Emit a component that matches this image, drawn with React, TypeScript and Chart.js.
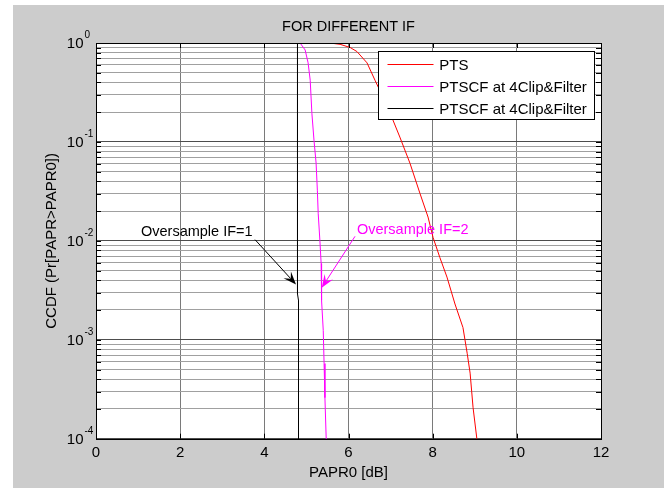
import React, { useEffect, useRef } from "react";
import { Chart, registerables } from "chart.js";

Chart.register(...registerables);

const FONT = "'Liberation Sans', Arial, Helvetica, sans-serif";

// ---- data ----
const seriesLabels = ["PTS", "PTSCF at 4Clip&Filter", "PTSCF at 4Clip&Filter"];
const seriesColors = ["#ff0000", "#ff00ff", "#000000"];

const ptsX = [4.4, 5.56, 5.8, 6.04, 6.2, 6.44, 6.63, 6.82, 6.99, 7.22, 7.46, 7.7, 7.89, 8.01, 8.17, 8.34, 8.53, 8.72, 8.82, 8.89, 8.96, 9.05, 9.07];
const ptsY = [1, 1, 0.97, 0.9, 0.82, 0.63, 0.42, 0.284, 0.195, 0.112, 0.061, 0.03, 0.0174, 0.0108, 0.0068, 0.0043, 0.0023, 0.00133, 0.00073, 0.00046, 0.000206, 0.0001, 0.00008];

const if2X = [4.6, 4.85, 4.97, 5.04, 5.09, 5.13, 5.18, 5.23, 5.26, 5.28, 5.32, 5.35, 5.36, 5.36, 5.4, 5.42, 5.44, 5.47, 5.48];
const if2Y = [1, 1, 0.85, 0.63, 0.42, 0.195, 0.104, 0.061, 0.0325, 0.019, 0.0101, 0.0059, 0.0037, 0.0025, 0.00124, 0.000575, 0.00026, 0.0001, 0.00008];

const if1X = [4.5, 4.788, 4.788, 4.812, 4.812];
const if1Y = [1, 1, 0.0029, 0.0025, 0.00008];

const xTicks = [0, 2, 4, 6, 8, 10, 12];
const yDecadeExps = [0, -1, -2, -3, -4];

const titleText = "FOR DIFFERENT IF";
const xLabel = "PAPR0 [dB]";
const yLabel = "CCDF (Pr[PAPR>PAPR0])";

// annotation texts and arrows (data coordinates)
const noteTexts = ["Oversample IF=1", "Oversample IF=2"];
const noteColors = ["#000000", "#ff00ff"];
const noteTextX = [1.069, 6.2];
const noteTextY = [0.01111, 0.01177];
const noteFromX = [3.779, 6.155];
const noteFromY = [0.01028, 0.01111];
const noteToX = [4.753, 5.364];
const noteToY = [0.003626, 0.003357];

// y gridline values: 1..9 x each decade
const yGridValues: number[] = [];
for (let e = -4; e <= -1; e++) {
  for (let m = 1; m <= 9; m++) yGridValues.push(m * Math.pow(10, e));
}
yGridValues.push(1);

const isDecade = (v: number) => {
  const l = Math.log10(v);
  return Math.abs(l - Math.round(l)) < 1e-9;
};

const toPoints = (xs: number[], ys: number[]) => xs.map((x, i) => ({ x, y: ys[i] }));

function drawArrow(ctx: CanvasRenderingContext2D, x1: number, y1: number, x2: number, y2: number, color: string) {
  const dx = x2 - x1;
  const dy = y2 - y1;
  const len = Math.hypot(dx, dy);
  const ux = dx / len;
  const uy = dy / len;
  const nx = -uy;
  const ny = ux;
  const L = 13;
  const W = 5;
  const notch = 0.6 * L;
  ctx.strokeStyle = color;
  ctx.fillStyle = color;
  ctx.lineWidth = 1;
  ctx.beginPath();
  ctx.moveTo(x1, y1);
  ctx.lineTo(x2 - ux * notch, y2 - uy * notch);
  ctx.stroke();
  ctx.beginPath();
  ctx.moveTo(x2, y2);
  ctx.lineTo(x2 - ux * L + nx * W, y2 - uy * L + ny * W);
  ctx.lineTo(x2 - ux * notch, y2 - uy * notch);
  ctx.lineTo(x2 - ux * L - nx * W, y2 - uy * L - ny * W);
  ctx.closePath();
  ctx.fill();
}

const decorPlugin = {
  id: "decor",
  beforeDraw(chart: any) {
    const { ctx, width, height, chartArea: a } = chart;
    ctx.save();
    ctx.fillStyle = "#ffffff";
    ctx.fillRect(0, 0, width, height);
    ctx.fillStyle = "#cccccc";
    ctx.fillRect(13, 5, width - 13, height - 5);
    ctx.fillStyle = "#ffffff";
    ctx.fillRect(a.left, a.top, a.right - a.left, a.bottom - a.top);
    ctx.restore();
  },
  afterDatasetsDraw(chart: any) {
    const { ctx, chartArea: a } = chart;
    const xs = chart.scales.x;
    const ys = chart.scales.y;
    ctx.save();

    // annotations
    for (let i = 0; i < noteTexts.length; i++) {
      const fx = xs.getPixelForValue(noteFromX[i]);
      const fy = ys.getPixelForValue(noteFromY[i]);
      const tx = xs.getPixelForValue(noteToX[i]);
      const ty = ys.getPixelForValue(noteToY[i]);
      drawArrow(ctx, fx, fy, tx, ty, noteColors[i]);
      ctx.font = `14.5px ${FONT}`;
      ctx.fillStyle = noteColors[i];
      ctx.textAlign = "left";
      ctx.textBaseline = "alphabetic";
      ctx.fillText(noteTexts[i], xs.getPixelForValue(noteTextX[i]), ys.getPixelForValue(noteTextY[i]));
    }

    // inner ticks
    ctx.strokeStyle = "#000000";
    ctx.lineWidth = 1;
    ctx.beginPath();
    for (const v of yGridValues) {
      const y = Math.round(ys.getPixelForValue(v)) + 0.5;
      ctx.moveTo(a.left, y);
      ctx.lineTo(a.left + 5, y);
      ctx.moveTo(a.right, y);
      ctx.lineTo(a.right - 5, y);
    }
    for (const v of xTicks) {
      const x = Math.round(xs.getPixelForValue(v)) + 0.5;
      ctx.moveTo(x, a.bottom);
      ctx.lineTo(x, a.bottom - 5);
      ctx.moveTo(x, a.top);
      ctx.lineTo(x, a.top + 5);
    }
    ctx.stroke();

    // box
    ctx.strokeRect(Math.round(a.left) + 0.5, Math.round(a.top) + 0.5, Math.round(a.right - a.left), Math.round(a.bottom - a.top));

    // y tick labels 10^e
    ctx.fillStyle = "#000000";
    for (const e of yDecadeExps) {
      const y = ys.getPixelForValue(Math.pow(10, e));
      ctx.font = `15px ${FONT}`;
      ctx.textAlign = "right";
      ctx.textBaseline = "alphabetic";
      ctx.fillText("10", a.left - 12.5, y + 5.3);
      ctx.font = `10px ${FONT}`;
      ctx.textAlign = "left";
      ctx.fillText(String(e), a.left - 11.5, y - 5);
    }

    // title
    ctx.font = `14.5px ${FONT}`;
    ctx.textAlign = "center";
    ctx.textBaseline = "alphabetic";
    ctx.fillText(titleText, (a.left + a.right) / 2, 30.5);

    // x label
    ctx.font = `15px ${FONT}`;
    ctx.fillText(xLabel, (a.left + a.right) / 2, 477);

    // y label
    ctx.save();
    ctx.translate(55.5, (a.top + a.bottom) / 2);
    ctx.rotate(-Math.PI / 2);
    ctx.textAlign = "center";
    ctx.fillText(yLabel, 0, 0);
    ctx.restore();

    // legend
    const lx = 378, ly = 51, lw = 216, lh = 68;
    ctx.fillStyle = "#ffffff";
    ctx.fillRect(lx, ly, lw, lh);
    ctx.strokeStyle = "#000000";
    ctx.strokeRect(lx + 0.5, ly + 0.5, lw, lh);
    chart.data.datasets.forEach((ds: any, i: number) => {
      const rowY = 64 + i * 22;
      ctx.strokeStyle = ds.borderColor;
      ctx.beginPath();
      ctx.moveTo(387.5, rowY + 0.5);
      ctx.lineTo(433.5, rowY + 0.5);
      ctx.stroke();
      ctx.fillStyle = "#000000";
      ctx.font = `15px ${FONT}`;
      ctx.textAlign = "left";
      ctx.textBaseline = "alphabetic";
      ctx.fillText(ds.label, 439.3, rowY + 5.5);
    });

    ctx.restore();
  },
};

export default function App() {
  const canvasRef = useRef<HTMLCanvasElement | null>(null);

  useEffect(() => {
    const canvas = canvasRef.current;
    if (!canvas) return;
    const chart = new Chart(canvas, {
      type: "line",
      data: {
        datasets: [
          { label: seriesLabels[0], data: toPoints(ptsX, ptsY), borderColor: seriesColors[0], backgroundColor: seriesColors[0] },
          { label: seriesLabels[1], data: toPoints(if2X, if2Y), borderColor: seriesColors[1], backgroundColor: seriesColors[1] },
          { label: seriesLabels[2], data: toPoints(if1X, if1Y), borderColor: seriesColors[2], backgroundColor: seriesColors[2] },
        ],
      },
      options: {
        responsive: false,
        animation: false,
        devicePixelRatio: 1,
        layout: { padding: { left: 0, top: 43, right: 63, bottom: 0 } },
        elements: { point: { radius: 0 }, line: { borderWidth: 1, tension: 0 } },
        plugins: { legend: { display: false }, tooltip: { enabled: false }, title: { display: false } },
        scales: {
          x: {
            type: "linear",
            min: 0,
            max: 12,
            afterBuildTicks: (s: any) => {
              s.ticks = xTicks.map((v) => ({ value: v }));
            },
            afterFit: (s: any) => {
              s.height = 49.3;
            },
            grid: { color: "#7a7a7a", lineWidth: 1, drawTicks: false },
            border: { display: false },
            ticks: { color: "#000000", font: { family: FONT, size: 15 }, padding: 5, maxRotation: 0, autoSkip: false },
          },
          y: {
            type: "logarithmic",
            min: 1e-4,
            max: 1,
            afterBuildTicks: (s: any) => {
              s.ticks = yGridValues.map((v) => ({ value: v }));
            },
            afterFit: (s: any) => {
              s.width = 96;
            },
            grid: {
              color: (c: any) => (c.tick && isDecade(c.tick.value) ? "#4d4d4d" : "#a0a0a0"),
              lineWidth: 1,
              drawTicks: false,
            },
            border: { display: false },
            ticks: { display: false },
          },
        },
      },
      plugins: [decorPlugin],
    } as any);
    return () => chart.destroy();
  }, []);

  return (
    <div style={{ position: "absolute", left: 0, top: 0, width: 664, height: 488 }}>
      <canvas ref={canvasRef} width={664} height={488} style={{ display: "block" }} />
    </div>
  );
}
